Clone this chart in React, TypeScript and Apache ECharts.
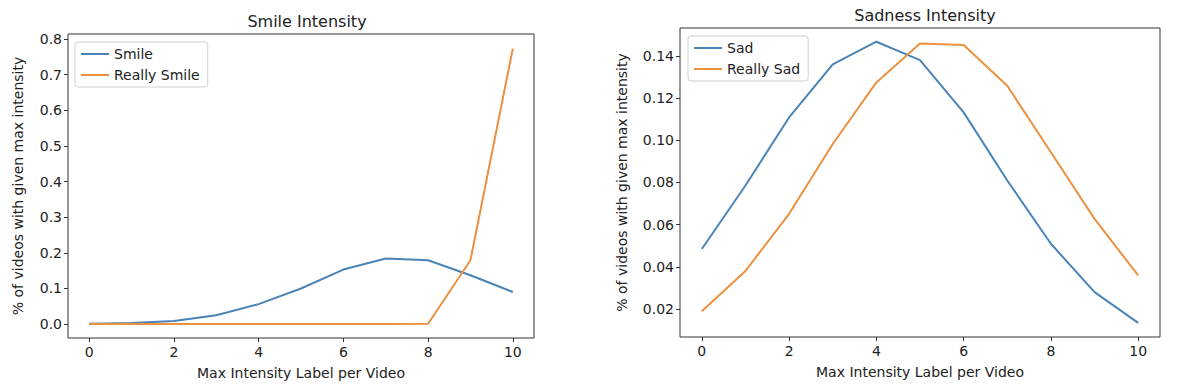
import React, { useEffect, useRef } from "react";
import * as echarts from "echarts";

const intensities = [0, 1, 2, 3, 4, 5, 6, 7, 8, 9, 10];
const xTicks = [0, 2, 4, 6, 8, 10];

const smile = [0.001, 0.003, 0.009, 0.025, 0.056, 0.1, 0.153, 0.184, 0.179, 0.137, 0.09];
const reallySmile = [0.0, 0.0, 0.0, 0.0, 0.0, 0.0, 0.0, 0.0, 0.001, 0.179, 0.773];
const smileYTicks = [0, 0.1, 0.2, 0.3, 0.4, 0.5, 0.6, 0.7, 0.8];

const sad = [0.0484, 0.0785, 0.1108, 0.136, 0.1467, 0.138, 0.1132, 0.0809, 0.0509, 0.028, 0.0134];
const reallySad = [0.0189, 0.038, 0.0651, 0.0982, 0.1274, 0.1459, 0.1451, 0.1258, 0.0943, 0.0627, 0.0359];
const sadYTicks = [0.02, 0.04, 0.06, 0.08, 0.1, 0.12, 0.14];

const BLUE = "#4a84b6";
const ORANGE = "#eb9140";
const FONT = "DejaVu Sans";
const yName = "% of videos with given max intensity";
const xName = "Max Intensity Label per Video";

const pairs = (ys: number[]) => intensities.map((x, i) => [x, ys[i]]);

export default function App() {
  const ref = useRef<HTMLDivElement>(null);
  useEffect(() => {
    if (!ref.current) return;
    const chart = echarts.init(ref.current, null, { renderer: "svg" });
    const axisText = { color: "#222", fontFamily: FONT, fontSize: 14 };
    const xAxisCommon = (gridIndex: number) => ({
      type: "value",
      gridIndex,
      min: -0.5,
      max: 10.5,
      splitLine: { show: false },
      axisLine: { show: false, onZero: false },
      axisTick: { show: true, inside: false, length: 4, customValues: xTicks, lineStyle: { color: "#333" } },
      axisLabel: { ...axisText, margin: 7, customValues: xTicks, formatter: (v: number) => String(v) },
      name: xName,
      nameLocation: "middle",
      nameGap: 28,
      nameTextStyle: axisText,
    });
    const legendCommon = {
      orient: "vertical",
      icon: "rect", itemWidth: 28, itemHeight: 2, itemGap: 7,
      textStyle: { fontFamily: FONT, fontSize: 14, color: "#222" },
      borderColor: "#d0d0d0", borderWidth: 1, borderRadius: 3, padding: [5, 8, 5, 6],
    };
    const titleStyle = { fontFamily: FONT, fontSize: 16, fontWeight: "normal", color: "#222" };
    const option: any = {
      animation: false,
      backgroundColor: "#fff",
      title: [
        { text: "Smile Intensity", left: 302, top: 8, textAlign: "center", textStyle: titleStyle },
        { text: "Sadness Intensity", left: 920, top: 2, textAlign: "center", textStyle: titleStyle },
      ],
      legend: [
        { ...legendCommon, data: ["Smile", "Really Smile"], left: 75, top: 42 },
        { ...legendCommon, data: ["Sad", "Really Sad"], left: 688, top: 36 },
      ],
      grid: [
        { left: 68, top: 34, width: 466, height: 304, show: true, borderColor: "#333", borderWidth: 1, backgroundColor: "transparent" },
        { left: 680, top: 28, width: 480, height: 309, show: true, borderColor: "#333", borderWidth: 1, backgroundColor: "transparent" },
      ],
      xAxis: [xAxisCommon(0), xAxisCommon(1)],
      yAxis: [
        {
          type: "value", gridIndex: 0, min: -0.039, max: 0.814,
          splitLine: { show: false }, axisLine: { show: false, onZero: false },
          axisTick: { show: true, length: 4, customValues: smileYTicks, lineStyle: { color: "#333" } },
          axisLabel: { ...axisText, margin: 6, customValues: smileYTicks, formatter: (v: number) => v.toFixed(1) },
          name: yName, nameLocation: "middle", nameGap: 43, nameTextStyle: axisText,
        },
        {
          type: "value", gridIndex: 1, min: 0.0067, max: 0.1532,
          splitLine: { show: false }, axisLine: { show: false, onZero: false },
          axisTick: { show: true, length: 4, customValues: sadYTicks, lineStyle: { color: "#333" } },
          axisLabel: { ...axisText, margin: 6, customValues: sadYTicks, formatter: (v: number) => v.toFixed(2) },
          name: yName, nameLocation: "middle", nameGap: 51, nameTextStyle: axisText,
        },
      ],
      series: [
        { name: "Smile", type: "line", xAxisIndex: 0, yAxisIndex: 0, data: pairs(smile), showSymbol: false, color: BLUE, lineStyle: { width: 2, color: BLUE } },
        { name: "Really Smile", type: "line", xAxisIndex: 0, yAxisIndex: 0, data: pairs(reallySmile), showSymbol: false, color: ORANGE, lineStyle: { width: 2, color: ORANGE } },
        { name: "Sad", type: "line", xAxisIndex: 1, yAxisIndex: 1, data: pairs(sad), showSymbol: false, color: BLUE, lineStyle: { width: 2, color: BLUE } },
        { name: "Really Sad", type: "line", xAxisIndex: 1, yAxisIndex: 1, data: pairs(reallySad), showSymbol: false, color: ORANGE, lineStyle: { width: 2, color: ORANGE } },
      ],
    };
    chart.setOption(option);
    return () => chart.dispose();
  }, []);
  return <div ref={ref} style={{ position: "absolute", left: 0, top: 0, width: 1202, height: 392 }} />;
}
